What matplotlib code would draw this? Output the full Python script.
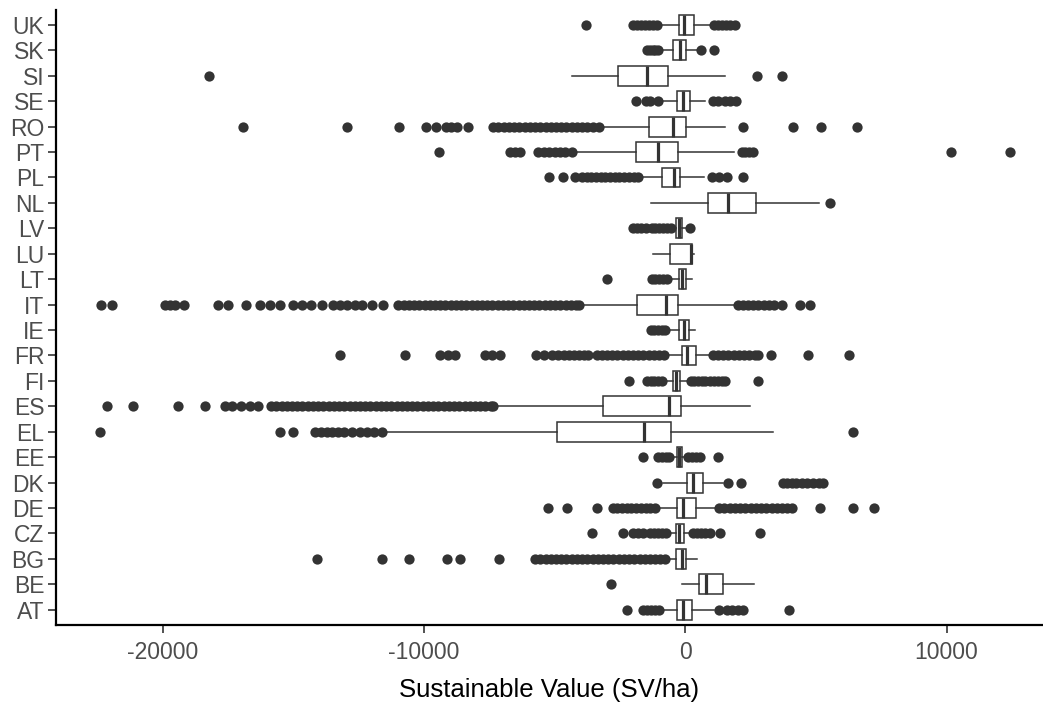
import matplotlib.pyplot as plt

plt.rcParams['font.family'] = ['Liberation Sans', 'DejaVu Sans']

# countries from bottom (AT) to top (UK)
countries = ['AT', 'BE', 'BG', 'CZ', 'DE', 'DK', 'EE', 'EL', 'ES', 'FI', 'FR', 'IE',
             'IT', 'LT', 'LU', 'LV', 'NL', 'PL', 'PT', 'RO', 'SE', 'SI', 'SK', 'UK']

# box statistics (SV/ha), same order as countries
q1 = [-306, 536, -356, -370, -306, 80, -330, -4920, -3160, -460, -140, -230,
      -1840, -230, -585, -356, 880, -880, -1890, -1390, -300, -2565, -460, -230]
med = [-100, 792, -138, -230, -100, 300, -230, -1570, -610, -350, 50, -50,
       -740, -110, 200, -240, 1620, -420, -1060, -460, -80, -1480, -220, -60]
q3 = [245, 1431, 27, -50, 400, 690, -130, -560, -180, -200, 400, 150,
      -270, 20, 245, -140, 2690, -200, -270, 30, 180, -650, 30, 320]
whislo = [-950, -138, -739, -712, -1120, -840, -560, -11560, -7300, -840, -740, -700,
          -4000, -600, -1250, -450, -1320, -1730, -4300, -3250, -1000, -4350, -1000, -1050]
whishi = [1100, 2620, 459, 256, 1260, 1450, 100, 3370, 2480, 150, 1000, 370,
          1970, 245, 330, 60, 5130, 716, 1860, 1520, 750, 1520, 430, 1010]

# outliers per country
out_AT = [-2240, -1600, -1450, -1300, -1150, -1000, 1300, 1590, 1800, 2000, 2220, 3980]
out_BE = [-2860]
out_BG = [-14100, -11620, -10570, -9130, -8620, -7120,
          -5750, -5550, -5350, -5150, -4950, -4750, -4550, -4350, -4150, -3950, -3750,
          -3550, -3350, -3150, -2950, -2750, -2550, -2350, -2150, -1950, -1750, -1550,
          -1350, -1150, -950, -780]
out_CZ = [-3580, -2370, -1990, -1800, -1610, -1350, -1200, -1050, -900, -750,
          280, 450, 600, 750, 940, 1330, 2850]
out_DE = [-5240, -4540, -3390, -2780, -2600, -2420, -2240, -2060, -1880, -1700, -1520,
          -1340, -1160, 1300, 1500, 1700, 1900, 2100, 2300, 2500, 2700, 2900, 3100,
          3300, 3500, 3700, 3900, 4100, 5160, 6410, 7220]
out_DK = [-1090, 1650, 2150, 3750, 3900, 4070, 4250, 4455, 4650, 4900, 5100, 5280]
out_EE = [-1620, -1050, -900, -750, -620, 120, 250, 400, 560, 1260]
out_EL = [-22400, -15510, -15000, -14170, -13950, -13720, -13530, -13300, -13050,
          -12770, -12450, -12200, -11900, -11620, 6410]
out_ES = [-22120, -21150, -19400, -18380, -17620, -17350, -17000, -16650, -16350,
          -15850, -15650, -15450, -15250, -15050, -14850, -14650, -14450, -14250,
          -14050, -13850, -13650, -13450, -13250, -13050, -12850, -12650, -12450,
          -12250, -12050, -11850, -11650, -11450, -11250, -11050, -10850, -10650,
          -10450, -10250, -10050, -9850, -9650, -9450, -9250, -9050, -8850, -8650,
          -8450, -8250, -8050, -7850, -7650, -7450, -7350]
out_FI = [-2140, -1480, -1330, -1180, -1030, -900, 200, 350, 500, 650, 750,
          950, 1100, 1250, 1400, 1520, 2790]
out_FR = [-13215, -10720, -9380, -9100, -8800, -7650, -7400, -7100, -5700, -5400, -5120,
          -4860, -4660, -4460, -4260, -4060, -3860, -3710, -3390, -3200, -3000, -2800,
          -2600, -2400, -2200, -2000, -1800, -1600, -1400, -1200, -1000, -800,
          1050, 1250, 1450, 1650, 1850, 2050, 2250, 2450, 2650, 2800, 3280, 4710, 6280]
out_IE = [-1330, -1180, -1030, -880, -760]
out_IT = [-22370, -21950, -19910, -19720, -19530, -19170, -17870, -17490, -16810,
          -16280, -15890, -15510, -15000, -14680, -14340, -13920, -13470, -13200,
          -12930, -12650, -12390, -12000, -11560,
          -10980, -10780, -10580, -10380, -10180, -9980, -9780, -9580, -9380, -9180,
          -8980, -8780, -8580, -8380, -8180, -7980, -7780, -7580, -7380, -7180, -6980,
          -6780, -6580, -6380, -6180, -5980, -5780, -5580, -5380, -5180, -4980, -4780,
          -4580, -4380, -4180, -4050,
          2000, 2200, 2400, 2600, 2800, 3000, 3200, 3400, 3690, 4390, 4770]
out_LT = [-3010, -1290, -1150, -1000, -850, -700]
out_LU = []
out_LV = [-2010, -1850, -1700, -1500, -1290, -1150, -1000, -850, -700, -560, 190]
out_NL = [5540]
out_PL = [-5200, -4690, -4220, -3960, -3780, -3600, -3420, -3240, -3060, -2880, -2700,
          -2520, -2340, -2160, -1980, -1800, 1010, 1300, 1585, 2200]
out_PT = [-9420, -6710, -6520, -6330, -5620, -5400, -5200, -5000, -4800, -4600, -4350,
          2160, 2300, 2450, 2600, 10160, 12430]
out_RO = [-16920, -12930, -10950, -9920, -9540, -9150, -8950, -8750, -8300,
          -7350, -7150, -6950, -6750, -6550, -6350, -6150, -5950, -5750, -5550, -5350,
          -5150, -4950, -4750, -4550, -4350, -4150, -3950, -3750, -3550, -3300,
          2200, 4130, 5190, 6560]
out_SE = [-1890, -1500, -1350, -1050, 1070, 1250, 1520, 1700, 1940]
out_SI = [-18230, 2730, 3690]
out_SK = [-1450, -1350, -1250, -1150, -1050, 600, 1100]
out_UK = [-3800, -2010, -1850, -1700, -1540, -1400, -1250, -1100,
          1100, 1250, 1400, 1550, 1700, 1900]

outliers = {'AT': out_AT, 'BE': out_BE, 'BG': out_BG, 'CZ': out_CZ, 'DE': out_DE,
            'DK': out_DK, 'EE': out_EE, 'EL': out_EL, 'ES': out_ES, 'FI': out_FI,
            'FR': out_FR, 'IE': out_IE, 'IT': out_IT, 'LT': out_LT, 'LU': out_LU,
            'LV': out_LV, 'NL': out_NL, 'PL': out_PL, 'PT': out_PT, 'RO': out_RO,
            'SE': out_SE, 'SI': out_SI, 'SK': out_SK, 'UK': out_UK}

xticks = [-20000, -10000, 0, 10000]
xticklabels = ['-20000', '-10000', '0', '10000']

stats = []
for i, c in enumerate(countries):
    stats.append(dict(label=c, q1=q1[i], med=med[i], q3=q3[i],
                      whislo=whislo[i], whishi=whishi[i], fliers=outliers[c]))

dark = '#333333'
fig = plt.figure(figsize=(10.43, 7.02), dpi=100)
ax = fig.add_axes([0.0537, 0.1097, 0.9463, 0.8765])

positions = list(range(1, len(countries) + 1))
ax.bxp(stats, positions=positions, orientation='horizontal', widths=0.78,
       showcaps=False, patch_artist=True,
       boxprops=dict(facecolor='white', edgecolor=dark, linewidth=1.1),
       whiskerprops=dict(color=dark, linewidth=1.1),
       medianprops=dict(color=dark, linewidth=2.3, solid_capstyle='butt'),
       flierprops=dict(marker='o', markersize=7.4, markerfacecolor=dark,
                       markeredgecolor=dark, markeredgewidth=0, linestyle='none'))

ax.set_xlim(-24083, 13689)
ax.set_ylim(0.4, 24.6)
ax.set_yticks(positions)
ax.set_yticklabels(countries)
ax.set_xticks(xticks)
ax.set_xticklabels(xticklabels)

for s in ['top', 'right']:
    ax.spines[s].set_visible(False)
for s in ['left', 'bottom']:
    ax.spines[s].set_linewidth(1.6)
    ax.spines[s].set_color('black')

ax.tick_params(axis='both', colors=dark, width=1.2, length=5.5,
               labelsize=16.5, labelcolor='#4D4D4D')
ax.tick_params(axis='y', pad=3)
ax.tick_params(axis='x', pad=6)

ax.set_xlabel('Sustainable Value (SV/ha)', fontsize=18.5, color='black', labelpad=10)

fig.savefig('out.png', dpi=100)
